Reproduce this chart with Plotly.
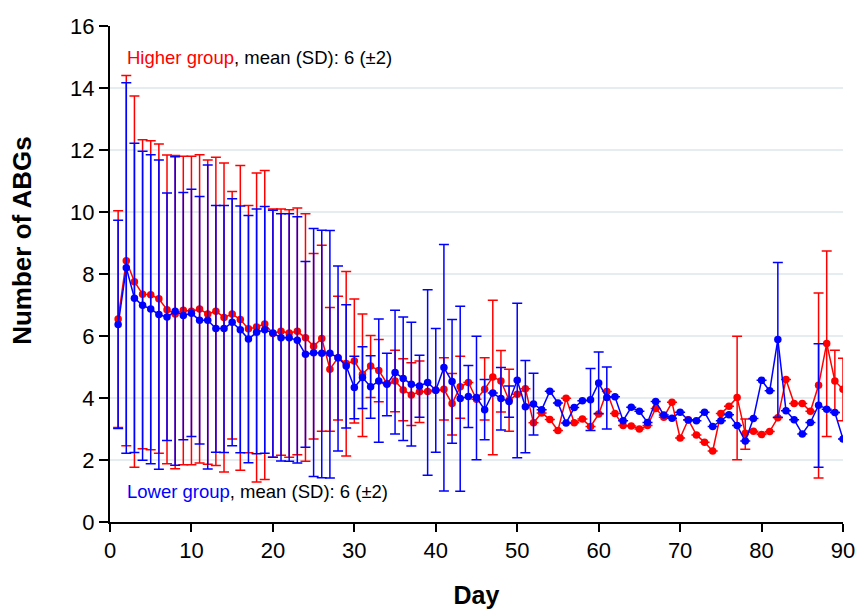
import plotly.graph_objects as go

days = list(range(1, 91))

# Higher group (red): mean, upper bound (mean+SD), lower bound (mean-SD)
high_mean = [6.55, 8.43, 7.75, 7.35, 7.33, 7.2, 6.85, 6.71, 6.83, 6.8,
             6.87, 6.71, 6.8, 6.6, 6.71, 6.53, 6.23, 6.29, 6.39, 6.08,
             6.15, 6.1, 6.15, 5.94, 5.67, 5.92, 4.93, 5.3, 5.11, 5.19,
             4.77, 5.03, 4.89, 4.47, 4.55, 4.26, 4.1, 4.2, 4.21, 4.25,
             4.28, 3.82, 4.36, 4.5, 3.96, 4.28, 4.68, 4.55, 3.93, 4.12,
             4.3, 3.2, 3.52, 3.31, 2.95, 3.99, 3.2, 3.32, 3.08, 3.48,
             4.21, 3.5, 3.11, 3.1, 3.0, 3.11, 3.66, 3.38, 3.86, 2.71,
             3.3, 2.81, 2.57, 2.29, 3.5, 3.73, 4.02, 2.86, 2.93, 2.82,
             2.92, 3.36, 4.6, 3.82, 3.82, 3.57, 4.41, 5.76, 4.55, 4.28]
high_upper = [10.04, 14.4, 13.74, 12.33, 12.3, 12.19, 11.84, 11.82, 11.8, 11.8,
              11.85, 11.68, 11.77, 11.58, 10.66, 11.5, 10.21, 11.26, 11.34, 10.1,
              10.1, 10.07, 10.13, 9.94, 8.66, 8.93, 6.92, 7.28, 8.08, 7.19,
              6.71, 6.02, 5.89, 4.47, 5.54, 5.27, 5.14, 5.19, 4.21, 4.25,
              5.3, 4.79, 5.35, 4.5, 3.96, 5.3, 7.15, 5.53, 4.93, 4.12,
              4.3, 3.2, 3.52, 3.31, 2.95, 3.99, 3.2, 3.32, 3.08, 3.48,
              4.21, 3.5, 3.11, 3.1, 3.0, 3.11, 3.66, 3.38, 3.86, 2.71,
              3.3, 2.81, 2.57, 2.29, 3.5, 3.73, 5.99, 3.32, 2.93, 2.82,
              2.92, 3.36, 4.6, 3.82, 3.82, 3.57, 7.39, 8.74, 5.54, 5.28]
high_lower = [3.05, 2.46, 1.77, 2.36, 2.33, 2.22, 1.88, 1.72, 1.85, 1.85,
              1.9, 1.86, 1.82, 1.61, 2.68, 1.67, 2.23, 1.29, 1.37, 2.09,
              2.15, 2.09, 2.17, 1.96, 2.68, 2.93, 2.93, 3.29, 2.13, 3.19,
              2.76, 4.02, 3.88, 4.47, 3.56, 3.27, 3.11, 3.21, 4.21, 4.25,
              3.29, 2.81, 3.35, 4.5, 3.96, 3.29, 2.17, 3.55, 2.93, 4.12,
              4.3, 3.2, 3.52, 3.31, 2.95, 3.99, 3.2, 3.32, 3.08, 3.48,
              4.21, 3.5, 3.11, 3.1, 3.0, 3.11, 3.66, 3.38, 3.86, 2.71,
              3.3, 2.81, 2.57, 2.29, 3.5, 3.73, 2.01, 2.35, 2.93, 2.82,
              2.92, 3.36, 4.6, 3.82, 3.82, 3.57, 1.42, 2.76, 3.53, 3.27]

# Lower group (blue)
low_mean = [6.37, 8.2, 7.22, 6.99, 6.87, 6.69, 6.61, 6.8, 6.66, 6.73,
            6.51, 6.51, 6.24, 6.24, 6.44, 6.2, 5.9, 6.12, 6.2, 6.1,
            5.94, 5.94, 5.86, 5.41, 5.46, 5.44, 5.44, 5.3, 5.03, 4.34,
            4.66, 4.36, 4.55, 4.44, 4.82, 4.63, 4.44, 4.39, 4.5, 4.25,
            4.98, 4.53, 3.98, 4.05, 4.02, 3.62, 4.16, 3.98, 3.89, 4.57,
            3.72, 3.81, 3.62, 4.22, 3.84, 3.19, 3.69, 3.91, 3.94, 4.48,
            4.02, 4.04, 3.27, 3.7, 3.57, 3.21, 3.89, 3.45, 3.35, 3.54,
            3.29, 3.27, 3.54, 3.08, 3.27, 3.46, 3.11, 2.61, 3.34, 4.57,
            4.23, 5.89, 3.59, 3.3, 2.84, 3.21, 3.77, 3.64, 3.53, 2.68]
low_upper = [9.73, 14.17, 12.22, 11.96, 11.85, 11.68, 10.61, 11.78, 10.63, 10.73,
             10.5, 11.52, 10.21, 10.21, 10.43, 10.19, 9.89, 10.1, 10.18, 10.06,
             9.94, 9.94, 9.85, 8.4, 9.47, 9.41, 9.4, 8.26, 7.01, 5.35,
             5.65, 5.36, 6.55, 5.44, 6.83, 6.61, 6.44, 5.38, 7.49, 6.24,
             8.95, 6.53, 6.96, 5.05, 5.99, 4.6, 4.16, 4.98, 4.39, 7.06,
             5.21, 4.8, 3.62, 4.22, 3.84, 3.19, 3.69, 3.91, 4.95, 5.48,
             5.0, 4.04, 3.27, 3.7, 3.57, 3.21, 3.89, 3.45, 3.35, 3.54,
             3.29, 3.27, 3.54, 3.08, 3.27, 3.46, 3.11, 2.61, 3.34, 4.57,
             4.23, 8.37, 3.59, 3.3, 2.84, 3.21, 5.75, 3.64, 3.53, 2.68]
low_lower = [3.02, 2.22, 2.24, 1.99, 1.88, 1.7, 2.63, 1.83, 2.65, 2.76,
             2.52, 1.71, 2.25, 2.24, 2.46, 2.23, 1.91, 2.2, 2.22, 2.09,
             1.97, 1.96, 1.9, 2.41, 1.47, 1.43, 1.42, 2.29, 3.03, 3.33,
             3.66, 3.35, 2.57, 3.43, 2.84, 2.63, 2.45, 3.38, 1.51, 2.25,
             1.0, 2.54, 0.99, 3.05, 2.01, 2.65, 4.16, 2.97, 3.38, 2.07,
             2.23, 2.81, 3.62, 4.22, 3.84, 3.19, 3.69, 3.91, 2.95, 3.5,
             3.0, 4.04, 3.27, 3.7, 3.57, 3.21, 3.89, 3.45, 3.35, 3.54,
             3.29, 3.27, 3.54, 3.08, 3.27, 3.46, 3.11, 2.61, 3.34, 4.57,
             4.23, 3.38, 3.59, 3.3, 2.84, 3.21, 1.77, 3.64, 3.53, 2.68]

x_ticks = list(range(0, 91, 10))
y_ticks = list(range(0, 17, 2))

RED = "#ff0000"
BLUE = "#0000ff"
FONT = "Arial, 'Liberation Sans', sans-serif"


def err(mean, upper, lower):
    plus = [round(u - m, 3) for u, m in zip(upper, mean)]
    minus = [round(m - l, 3) for m, l in zip(mean, lower)]
    return plus, minus


hp, hm = err(high_mean, high_upper, high_lower)
lp, lm = err(low_mean, low_upper, low_lower)

fig = go.Figure()
fig.add_trace(go.Scatter(
    x=days, y=high_mean, mode="lines+markers", name="Higher group",
    line=dict(color=RED, width=1.5),
    marker=dict(color=RED, size=7.5),
    error_y=dict(type="data", symmetric=False, array=hp, arrayminus=hm,
                 color=RED, thickness=1.5, width=5),
))
fig.add_trace(go.Scatter(
    x=days, y=low_mean, mode="lines+markers", name="Lower group",
    line=dict(color=BLUE, width=1.5),
    marker=dict(color=BLUE, size=7.5),
    error_y=dict(type="data", symmetric=False, array=lp, arrayminus=lm,
                 color=BLUE, thickness=1.5, width=5),
))

fig.update_layout(
    width=858, height=609,
    margin=dict(l=110, r=15, t=26, b=87),
    paper_bgcolor="white", plot_bgcolor="white",
    showlegend=False,
    font=dict(family=FONT, size=22, color="black"),
    xaxis=dict(
        range=[0, 90], tickvals=x_ticks, ticktext=[str(v) for v in x_ticks],
        showgrid=False, zeroline=False, showline=True, linecolor="black",
        linewidth=2, ticks="outside", ticklen=8, tickwidth=2,
        tickcolor="black", tickfont=dict(size=22), automargin=False,
        title=dict(text="<b>Day</b>", font=dict(size=25), standoff=26),
    ),
    yaxis=dict(
        range=[0, 16], tickvals=y_ticks, ticktext=[str(v) for v in y_ticks],
        showgrid=True, gridcolor="#e6edf0", gridwidth=2,
        zeroline=False, showline=True, linecolor="black",
        linewidth=2, ticks="outside", ticklen=9, tickwidth=2,
        tickcolor="black", tickfont=dict(size=22), automargin=False,
    ),
    annotations=[
        dict(x=-0.12, y=0.567, xref="paper", yref="paper", xanchor="center",
             yanchor="middle", textangle=-90, showarrow=False,
             font=dict(size=26, color="black"), text="<b>Number of ABGs</b>"),
        dict(x=1.8, y=15.0, xref="x", yref="y", xanchor="left", yanchor="middle",
             showarrow=False, font=dict(size=18.5, color="black"),
             text="<span style='color:#ff0000'>Higher group</span>, mean (SD): 6 (±2)"),
        dict(x=1.8, y=0.97, xref="x", yref="y", xanchor="left", yanchor="middle",
             showarrow=False, font=dict(size=18.5, color="black"),
             text="<span style='color:#0000ff'>Lower group</span>, mean (SD): 6 (±2)"),
    ],
)

# remove the default 8px page margin so the 858x609 figure fills the window
fig.write_html(
    "out.html",
    config={"displayModeBar": False},
    post_script="document.body.style.margin='0';document.body.style.overflow='hidden';",
)
